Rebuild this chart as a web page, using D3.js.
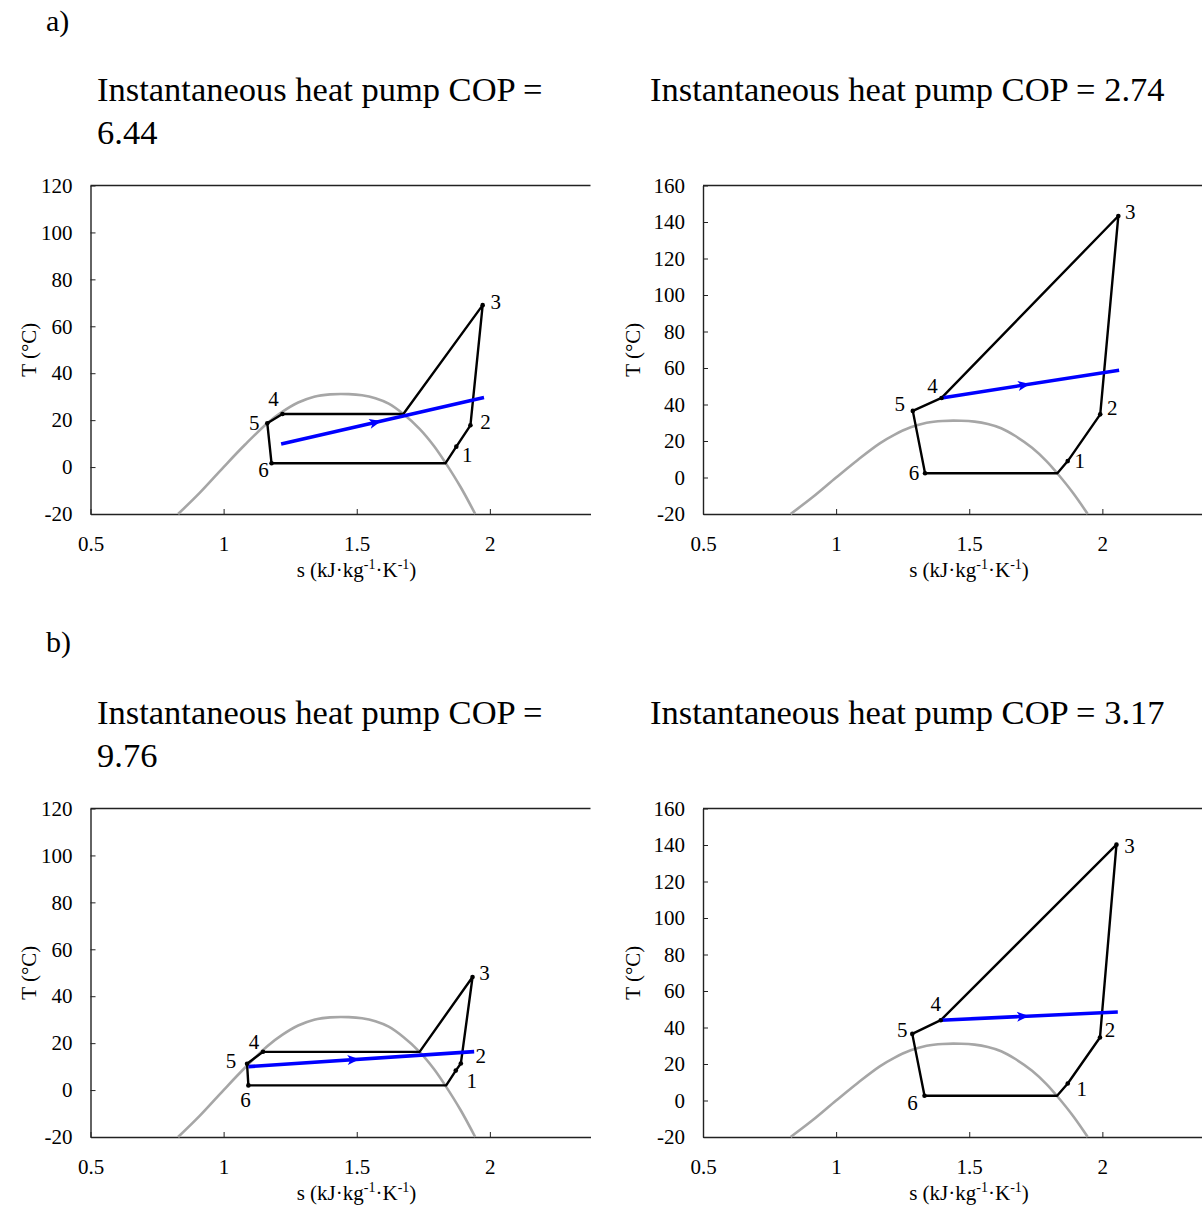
<!DOCTYPE html>
<html>
<head>
<meta charset="utf-8">
<script src="https://cdn.jsdelivr.net/npm/d3@7"></script>
<style>
  body { margin: 0; background: #fff; }
  svg { display: block; }
  text { font-family: "Liberation Serif", "Times New Roman", serif; fill: #000; }
</style>
</head>
<body>
<div id="vis"></div>
<script>
// ---- data ----
var copValues = ["6.44", "2.74", "9.76", "3.17"];
var tMaxValues = [120, 160, 120, 160];
var sTicks = [0.5, 1, 1.5, 2];
var pointNames = ["1", "2", "3", "4", "5", "6"];

// saturation dome of the refrigerant, s (kJ/kgK) and T (C)
var domeS = [0.829, 0.91, 1.0, 1.08, 1.164, 1.22, 1.28, 1.34, 1.40, 1.47, 1.52, 1.57, 1.62, 1.675, 1.736, 1.79, 1.833, 1.89, 1.945];
var domeT = [-20, -11, 0, 9.5, 18.7, 23.5, 27.5, 30, 31, 31.1, 30.6, 29.3, 27, 22.6, 16.3, 9, 1.9, -8.5, -20];

// cycle outlines in drawing order [s, T]
var cycleA1 = [[1.180, 1.6], [1.833, 1.6], [1.874, 8.7], [1.927, 17.8], [1.973, 69.0], [1.675, 22.6], [1.221, 22.6], [1.164, 18.7], [1.180, 1.6]];
var cycleA2 = [[1.334, 2.3], [1.831, 2.3], [1.870, 9.0], [1.992, 34.6], [2.060, 143.3], [1.396, 43.6], [1.288, 36.5], [1.334, 2.3]];
var cycleB1 = [[1.093, 2.0], [1.836, 2.0], [1.872, 8.3], [1.891, 11.3], [1.935, 48.2], [1.736, 16.3], [1.148, 16.3], [1.088, 11.2], [1.093, 2.0]];
var cycleB2 = [[1.332, 2.6], [1.830, 2.6], [1.870, 9.3], [1.991, 34.5], [2.053, 140.2], [1.393, 44.0], [1.286, 36.5], [1.332, 2.6]];

// numbered states 1..6 [s, T]
var statesA1 = [[1.874, 8.7], [1.927, 17.8], [1.973, 69.0], [1.221, 22.6], [1.164, 18.7], [1.180, 1.6]];
var statesA2 = [[1.870, 9.0], [1.992, 34.6], [2.060, 143.3], [1.396, 43.6], [1.288, 36.5], [1.334, 2.3]];
var statesB1 = [[1.872, 8.3], [1.891, 11.3], [1.935, 48.2], [1.148, 16.3], [1.088, 11.2], [1.093, 2.0]];
var statesB2 = [[1.870, 9.3], [1.991, 34.5], [2.053, 140.2], [1.393, 44.0], [1.286, 36.5], [1.332, 2.6]];

// water (heat sink) line [s, T]
var waterA1 = [[1.216, 9.8], [1.978, 29.6]];
var waterA2 = [[1.396, 43.6], [2.063, 58.8]];
var waterB1 = [[1.093, 10.0], [1.941, 16.4]];
var waterB2 = [[1.393, 44.0], [2.058, 48.5]];

// ---- layout ----
var W = 1202, H = 1207;
var plotW = 500, plotH = 328.5;

var panels = [
  {left: 90.5, top: 185.5, titleX: 97, titleY: 101, wrap: true, yTitleOff: 62,
   cycle: cycleA1, states: statesA1, water: waterA1,
   labelOff: [[11, 8], [15, -3], [13, -3], [-9, -15], [-13, 0], [-8, 7]]},
  {left: 703, top: 185.5, titleX: 650, titleY: 101, wrap: false, yTitleOff: 70,
   cycle: cycleA2, states: statesA2, water: waterA2,
   labelOff: [[12, 0], [12, -6], [12, -4], [-9, -12], [-13, -7], [-11, 0]]},
  {left: 90.5, top: 808.5, titleX: 97, titleY: 724, wrap: true, yTitleOff: 62,
   cycle: cycleB1, states: statesB1, water: waterB1,
   labelOff: [[16, 10], [20, -8], [12, -4], [-9, -10], [-16, -3], [-3, 15]]},
  {left: 703, top: 808.5, titleX: 650, titleY: 724, wrap: false, yTitleOff: 70,
   cycle: cycleB2, states: statesB2, water: waterB2,
   labelOff: [[14, 5], [10, -8], [13, 1], [-5, -16], [-10, -4], [-12, 7]]}
];

var svg = d3.select('#vis').append('svg')
  .attr('width', W)
  .attr('height', H);

// part letters
svg.append('text').attr('x', 46).attr('y', 31).attr('font-size', 30).text('a)');
svg.append('text').attr('x', 46).attr('y', 652).attr('font-size', 30).text('b)');

panels.forEach(function(p, i) {
  var x = d3.scaleLinear().domain([0.5, 2.378]).range([0, plotW]);
  var y = d3.scaleLinear().domain([-20, tMaxValues[i]]).range([plotH, 0]);

  // title
  var title = svg.append('text')
    .attr('x', p.titleX)
    .attr('y', p.titleY)
    .attr('font-size', 34.5);
  if (p.wrap) {
    title.append('tspan').attr('x', p.titleX).text('Instantaneous heat pump COP =');
    title.append('tspan').attr('x', p.titleX).attr('dy', 43).text(copValues[i]);
  } else {
    title.text('Instantaneous heat pump COP = ' + copValues[i]);
  }

  var g = svg.append('g')
    .attr('transform', 'translate(' + p.left + ',' + p.top + ')');

  // top frame line
  g.append('line')
    .attr('x1', 0).attr('x2', plotW)
    .attr('y1', 0).attr('y2', 0)
    .attr('stroke', '#222')
    .attr('stroke-width', 1.4);

  var xAxis = d3.axisBottom(x)
    .tickValues(sTicks)
    .tickSizeInner(-5)
    .tickSizeOuter(0)
    .tickPadding(22)
    .tickFormat(function(d) { return String(d); });

  var yAxis = d3.axisLeft(y)
    .tickValues(d3.range(-20, tMaxValues[i] + 1, 20))
    .tickSizeInner(-5)
    .tickSizeOuter(0)
    .tickPadding(18)
    .tickFormat(function(d) { return String(d); });

  var gx = g.append('g')
    .attr('transform', 'translate(0,' + plotH + ')')
    .call(xAxis);
  var gy = g.append('g').call(yAxis);

  [gx, gy].forEach(function(a) {
    a.attr('font-family', null).attr('font-size', null);
    a.selectAll('.domain').attr('stroke', '#222').attr('stroke-width', 1.4);
    a.selectAll('.tick line').attr('stroke', '#222').attr('stroke-width', 1);
    a.selectAll('.tick text').attr('font-size', 21).attr('fill', '#000');
  });

  // axis titles
  var xt = g.append('text')
    .attr('x', plotW / 2 + 16)
    .attr('y', plotH + 63)
    .attr('text-anchor', 'middle')
    .attr('font-size', 21);
  xt.append('tspan').text('s (kJ\u00b7kg');
  xt.append('tspan').attr('font-size', 14).attr('dy', -8).text('-1');
  xt.append('tspan').attr('dy', 8).text('\u00b7K');
  xt.append('tspan').attr('font-size', 14).attr('dy', -8).text('-1');
  xt.append('tspan').attr('dy', 8).text(')');

  g.append('text')
    .attr('transform', 'translate(' + (-p.yTitleOff) + ',' + (plotH / 2) + ') rotate(-90)')
    .attr('text-anchor', 'middle')
    .attr('dominant-baseline', 'central')
    .attr('font-size', 21)
    .text('T (\u00b0C)');

  // saturation dome
  var dome = domeS.map(function(s, k) { return [s, domeT[k]]; });
  g.append('path')
    .datum(dome)
    .attr('fill', 'none')
    .attr('stroke', '#a6a6a6')
    .attr('stroke-width', 2.6)
    .attr('d', d3.line()
      .x(function(d) { return x(d[0]); })
      .y(function(d) { return y(d[1]); })
      .curve(d3.curveCatmullRom));

  var line = d3.line()
    .x(function(d) { return x(d[0]); })
    .y(function(d) { return y(d[1]); });

  // cycle
  g.append('path')
    .datum(p.cycle)
    .attr('fill', 'none')
    .attr('stroke', '#000')
    .attr('stroke-width', 2.4)
    .attr('stroke-linejoin', 'round')
    .attr('d', line);

  // water line with arrow
  g.append('path')
    .datum(p.water)
    .attr('fill', 'none')
    .attr('stroke', '#0000ff')
    .attr('stroke-width', 3.6)
    .attr('d', line);

  var x0 = x(p.water[0][0]), y0 = y(p.water[0][1]);
  var x1 = x(p.water[1][0]), y1 = y(p.water[1][1]);
  var f = 0.47;
  var ang = Math.atan2(y1 - y0, x1 - x0) * 180 / Math.PI;
  g.append('path')
    .attr('d', 'M-7,-5 L5,0 L-7,5 L-4,0 Z')
    .attr('fill', '#0000ff')
    .attr('transform', 'translate(' + (x0 + f * (x1 - x0)) + ',' + (y0 + f * (y1 - y0)) + ') rotate(' + ang + ')');

  // state markers and labels
  g.selectAll('.state')
    .data(p.states)
    .enter().append('circle')
    .attr('class', 'state')
    .attr('cx', function(d) { return x(d[0]); })
    .attr('cy', function(d) { return y(d[1]); })
    .attr('r', 2.3)
    .attr('fill', '#000');

  g.selectAll('.state-label')
    .data(p.states)
    .enter().append('text')
    .attr('class', 'state-label')
    .attr('x', function(d, k) { return x(d[0]) + p.labelOff[k][0]; })
    .attr('y', function(d, k) { return y(d[1]) + p.labelOff[k][1]; })
    .attr('text-anchor', 'middle')
    .attr('dominant-baseline', 'central')
    .attr('font-size', 21)
    .text(function(d, k) { return pointNames[k]; });
});
</script>
</body>
</html>
